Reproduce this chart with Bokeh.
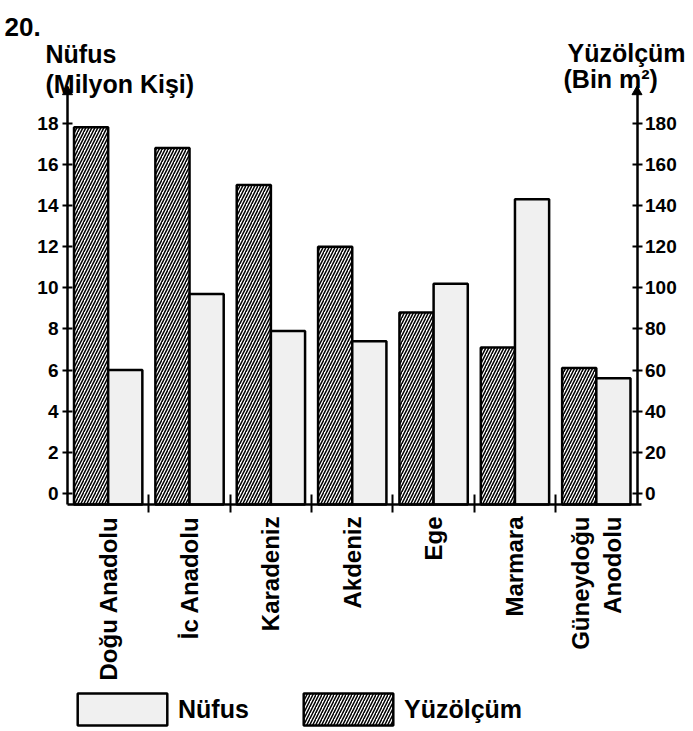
import math
from bokeh.plotting import figure
from bokeh.models import (Range1d, LinearAxis, FixedTicker, ColumnDataSource, Label,
                          Legend, LegendItem)
from bokeh.transform import dodge
from bokeh.embed import file_html
from bokeh.resources import INLINE

# ---- data ----
regions = ["Doğu Anadolu", "İc Anadolu", "Karadeniz", "Akdeniz", "Ege", "Marmara", "Güneydoğu\nAnodolu"]
nufus = [6.0, 9.7, 7.9, 7.4, 10.2, 14.3, 5.6]          # milyon kişi (left axis)
yuzolcum = [178, 168, 150, 120, 88, 71, 61]            # bin m2 (right axis)
left_ticks = [0, 2, 4, 6, 8, 10, 12, 14, 16, 18]
right_ticks = [0, 20, 40, 60, 80, 100, 120, 140, 160, 180]
series_names = ["Nüfus", "Yüzölçüm"]
left_title = ["Nüfus", "(Milyon Kişi)"]
right_title = ["Yüzölçüm", "(Bin m²)"]
question = "20."

FONT = "Liberation Sans"
W, H = 693, 731
N = len(regions)

# layout geometry (pixels from top-left)
PX_L, PX_R = 67.0, 636.5        # left / right axis
PY_0, PY_18 = 493.0, 122.7      # value 0 and 18 on the left scale
PY_BASE, PY_TIP = 504.0, 86.0   # baseline, top of axis lines
kx = (PX_R - PX_L) / N
ky = (PY_0 - PY_18) / 18.0
XA, XB = -PX_L / kx, N + (W - PX_R) / kx
YA, YB = -(H - PY_0) / ky, PY_0 / ky
Y_BASE = -(PY_BASE - PY_0) / ky
Y_TIP = (PY_0 - PY_TIP) / ky

p = figure(width=W, height=H, output_backend="svg", toolbar_location=None,
           x_range=Range1d(XA, XB), y_range=Range1d(YA, YB),
           x_axis_location=None, y_axis_location=None, min_border=0)
p.extra_y_ranges = {"right": Range1d(YA * 10, YB * 10)}
p.xgrid.visible = False
p.ygrid.visible = False
p.outline_line_color = None
p.background_fill_color = "white"

idx = list(range(N))
src = ColumnDataSource(dict(idx=idx, region=regions, nufus=nufus, yuz=yuzolcum))

r_yuz = p.vbar(x=dodge("idx", 0.5 - 0.21), top="yuz", bottom=Y_BASE * 10, width=0.42,
               source=src, y_range_name="right", fill_color="white", line_color="black",
               line_width=2.5, hatch_pattern="/", hatch_color="black", hatch_scale=6,
               hatch_weight=1.5)
r_nuf = p.vbar(x=dodge("idx", 0.5 + 0.21), top="nufus", bottom=Y_BASE, width=0.42,
               source=src, fill_color="#f0f0f0", line_color="black", line_width=2.5)

def style_axis(ax, size="19px"):
    ax.axis_line_width = 2.5
    ax.major_tick_line_width = 2
    ax.minor_tick_line_color = None
    ax.major_label_text_font = FONT
    ax.major_label_text_font_style = "bold"
    ax.major_label_text_font_size = size
    ax.major_label_text_color = "black"

la = LinearAxis(ticker=FixedTicker(ticks=left_ticks), fixed_location=0,
                bounds=(Y_BASE, Y_TIP))
style_axis(la)
la.major_tick_in = 5
la.major_tick_out = 5
la.major_label_standoff = 4
p.add_layout(la, "left")

ra = LinearAxis(y_range_name="right", ticker=FixedTicker(ticks=right_ticks), fixed_location=N,
                bounds=(Y_BASE * 10, Y_TIP * 10))
style_axis(ra)
ra.major_tick_in = 5
ra.major_tick_out = 5
ra.major_label_standoff = 3
p.add_layout(ra, "right")

# bottom axis: labels at group centres, separator ticks at group boundaries
centres = [i + 0.5 for i in idx]
bounds = [i for i in idx[1:]]
ba = LinearAxis(ticker=FixedTicker(ticks=centres, minor_ticks=bounds),
                major_label_overrides={c: r for c, r in zip(centres, regions)},
                fixed_location=Y_BASE, bounds=(0, N + 0.06))
style_axis(ba, "24px")
ba.major_tick_line_color = None
ba.major_tick_in = 0
ba.major_tick_out = 0
ba.minor_tick_line_color = "black"
ba.minor_tick_line_width = 2
ba.minor_tick_in = 10
ba.minor_tick_out = 8
ba.major_label_orientation = math.pi / 2
ba.major_label_standoff = 4
p.add_layout(ba, "below")

# arrow heads on the two value axes
p.scatter(x=[0, N], y=[(PY_0 - 91.3) / ky] * 2, marker="triangle", size=10,
          fill_color="black", line_color="black", line_width=1)

def lab(text, px, py, size):
    p.add_layout(Label(x=px, y=H - py, x_units="screen", y_units="screen", text=text,
                       text_font=FONT, text_font_style="bold", text_font_size=size,
                       text_color="black", text_baseline="alphabetic", text_align="left"))

lab(question, 4, 26, "26px")
lab(left_title[0], 45, 53, "25px")
lab(left_title[1], 45, 83, "25px")
lab(right_title[0], 567, 52, "25px")
lab(right_title[1], 563, 78, "25px")

for name, rend, gx in ((series_names[0], r_nuf, 77), (series_names[1], r_yuz, 303)):
    lg = Legend(items=[LegendItem(label=name, renderers=[rend])],
                location=(gx - 11, H - 729),
                glyph_width=112, glyph_height=40, label_standoff=0, padding=0, margin=0,
                border_line_color=None, background_fill_alpha=0,
                label_text_font=FONT, label_text_font_style="bold", label_text_font_size="25px",
                label_text_color="black")
    p.add_layout(lg, "center")

open("out.html", "w").write(file_html(p, INLINE))
